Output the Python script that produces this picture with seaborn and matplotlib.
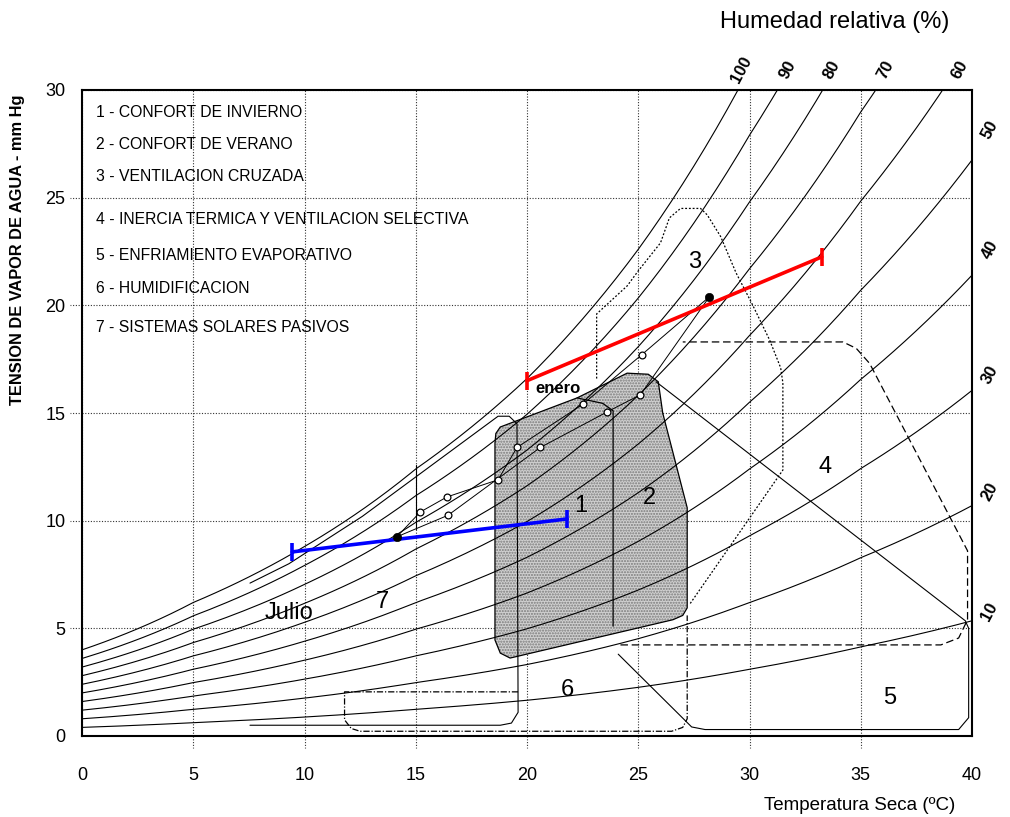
import numpy as np
import pandas as pd
import seaborn as sns
import matplotlib
matplotlib.use("Agg")
import matplotlib.pyplot as plt
from matplotlib.patches import Polygon

# Saturation vapour pressure (mm Hg)
sat_temps = [0, 5, 10, 15, 20, 25, 30, 35, 40]
sat_press = [4.0, 6.2, 8.8, 12.4, 16.6, 22.6, 31.0, 41.4, 53.5]
rh_levels = [100, 90, 80, 70, 60, 50, 40, 30, 20, 10]

# Monthly means (two branches from julio to enero)
path_a_t = [14.15, 15.2, 16.4, 18.7, 19.55, 22.5, 25.15, 28.2]
path_a_p = [9.25, 10.4, 11.1, 11.9, 13.4, 15.4, 17.7, 20.4]
path_b_t = [14.15, 16.45, 20.6, 23.6, 25.1, 28.2]
path_b_p = [9.25, 10.25, 13.4, 15.05, 15.85, 20.4]
mean_t = [14.15, 28.2]
mean_p = [9.25, 20.4]

# Extreme months: (Tmin, Tmax) / (p at Tmin, p at Tmax)
enero_t = [20.0, 33.25]
enero_p = [16.5, 22.25]
julio_t = [9.45, 21.8]
julio_p = [8.55, 10.08]

# Givoni zones (outline vertices, degC / mm Hg)
zone_12 = [(18.56, 4.46), (18.8, 3.85), (19.24, 3.62), (26.56, 5.4), (27.0, 5.6),
           (27.2, 5.95), (27.2, 10.6), (26.1, 15.0), (25.9, 16.45), (25.45, 16.8),
           (24.5, 16.85), (22.25, 15.7), (18.8, 14.35), (18.6, 14.05), (18.56, 13.6)]
zone_1_top = [(22.25, 15.7), (23.4, 15.45), (23.87, 15.1), (23.87, 5.1)]
zone_3 = [(23.13, 16.6), (23.13, 19.6), (24.5, 20.9), (25.0, 21.6), (26.0, 22.9),
          (26.4, 24.06), (26.9, 24.5), (27.8, 24.5), (28.1, 24.2), (28.7, 23.2),
          (29.4, 21.5), (30.1, 20.1), (30.9, 18.4), (31.4, 17.1), (31.5, 16.4),
          (31.5, 12.35), (27.3, 6.1)]
zone_4 = [(24.2, 4.23), (38.6, 4.23), (39.4, 4.55), (39.8, 5.4), (39.8, 8.6),
          (35.4, 17.3), (34.8, 18.0), (34.2, 18.3), (27.0, 18.3)]
zone_5 = [(25.8, 16.45), (39.7, 5.35), (39.85, 5.0), (39.85, 0.85), (39.4, 0.3),
          (28.0, 0.3), (27.4, 0.42), (24.1, 3.8)]
zone_6 = [(19.6, 2.05), (11.8, 2.05), (11.8, 0.75), (12.1, 0.35), (12.5, 0.22),
          (26.5, 0.22), (27.0, 0.4), (27.2, 0.8), (27.2, 5.6)]
zone_7 = [(7.55, 7.1), (9.3, 8.0), (12.6, 10.2), (18.7, 14.85), (19.2, 14.85),
          (19.55, 14.5), (19.6, 1.1), (19.3, 0.6), (18.8, 0.5), (7.55, 0.5)]
zone_7_split = [(15.0, 12.6), (15.0, 9.6)]

zone_names = ["1", "2", "3", "4", "5", "6", "7"]
zone_label_t = [22.4, 25.5, 27.55, 33.4, 36.3, 21.8, 13.5]
zone_label_p = [10.7, 11.05, 22.0, 12.5, 1.75, 2.15, 6.2]

legend_lines = [
    "1 - CONFORT DE INVIERNO",
    "2 - CONFORT DE VERANO",
    "3 - VENTILACION CRUZADA",
    "4 - INERCIA TERMICA Y VENTILACION SELECTIVA",
    "5 - ENFRIAMIENTO EVAPORATIVO",
    "6 - HUMIDIFICACION",
    "7 - SISTEMAS SOLARES PASIVOS",
]
legend_p = [28.94, 27.45, 25.96, 23.97, 22.3, 20.8, 18.95]

rh_top_labels = ["100", "90", "80", "70", "60"]
rh_top_t = [29.66, 31.7, 33.7, 36.1, 39.46]
rh_side_labels = ["50", "40", "30", "20", "10"]
rh_side_p = [28.15, 22.57, 16.77, 11.33, 5.76]

x_ticks = [0, 5, 10, 15, 20, 25, 30, 35, 40]
y_ticks = [0, 5, 10, 15, 20, 25, 30]

sns.set_theme(style="white")
plt.rcParams["font.family"] = ["Liberation Sans", "DejaVu Sans"]
plt.rcParams["text.color"] = "black"
plt.rcParams["xtick.color"] = "black"
plt.rcParams["ytick.color"] = "black"

# Relative humidity curves
temps = np.arange(0, 40.01, 0.25)
sat = np.exp(np.interp(temps, sat_temps, np.log(sat_press)))
curves = pd.DataFrame(
    [(t, rh / 100 * s, rh) for rh in rh_levels for t, s in zip(temps, sat)],
    columns=["temp", "press", "rh"],
)

fig = plt.figure(figsize=(10.1, 8.17), dpi=100)
ax = fig.add_axes([82 / 1010, 81 / 817, 890 / 1010, 646 / 817])

sns.lineplot(data=curves, x="temp", y="press", hue="rh", units="rh", estimator=None,
             palette=["black"] * len(rh_levels), linewidth=0.8, legend=False,
             sort=False, ax=ax)

# Shaded comfort zones 1 + 2
ax.add_patch(Polygon(zone_12, closed=True, facecolor="#d0d0d0", edgecolor="#7a7a7a",
                     hatch="......", linewidth=0, zorder=1))
ax.add_patch(Polygon(zone_12, closed=True, fill=False, edgecolor="black",
                     linewidth=0.9, zorder=3))

def outline(points, **kw):
    xs, ys = zip(*points)
    ax.plot(xs, ys, color="black", zorder=3, **kw)

outline(zone_1_top, linewidth=0.9)
outline(zone_3, linewidth=0.9, linestyle=(0, (1.5, 1.5)))
outline(zone_4, linewidth=0.9, linestyle=(0, (6, 3)))
outline(zone_5, linewidth=0.8)
outline(zone_6, linewidth=0.9, linestyle=(0, (5, 1.5, 1, 1.5)))
outline(zone_7, linewidth=0.8)
outline(zone_7_split, linewidth=0.8)

# Monthly path
ax.plot(path_a_t, path_a_p, color="black", linewidth=0.7, zorder=4)
ax.plot(path_b_t, path_b_p, color="black", linewidth=0.7, zorder=4)
sns.scatterplot(x=path_a_t[1:-1] + path_b_t[1:-1], y=path_a_p[1:-1] + path_b_p[1:-1],
                marker="o", s=24, facecolor="white", edgecolor="black", linewidth=0.9,
                zorder=6, ax=ax)

# Enero / julio ranges
ax.plot(enero_t, enero_p, color="#ff0000", linewidth=2.6, zorder=5,
        marker="|", markersize=13, markeredgewidth=2.6)
ax.plot(julio_t, julio_p, color="#0000ff", linewidth=2.6, zorder=5,
        marker="|", markersize=13, markeredgewidth=2.6)
sns.scatterplot(x=mean_t, y=mean_p, color="black", s=36, edgecolor="black",
                zorder=7, ax=ax)

ax.text(20.36, 16.15, "enero", fontsize=12, fontweight="bold", ha="left",
        va="center", zorder=8)
ax.text(9.3, 5.7, "Julio", fontsize=17, ha="center", va="center", zorder=8)

for name, t, p in zip(zone_names, zone_label_t, zone_label_p):
    ax.text(t, p, name, fontsize=17, ha="center", va="center", zorder=8)

for line, p in zip(legend_lines, legend_p):
    ax.text(0.63, p, line, fontsize=11.3, ha="left", va="center")

# RH labels outside the frame
for lab, t in zip(rh_top_labels, rh_top_t):
    ax.text(t, 30.95, lab, fontsize=12, fontweight="bold", rotation=62,
            ha="center", va="center", clip_on=False)
for lab, p in zip(rh_side_labels, rh_side_p):
    ax.text(40.8, p, lab, fontsize=12, fontweight="bold", rotation=62,
            ha="center", va="center", clip_on=False)

ax.set_xlim(0, 40)
ax.set_ylim(0, 30)
ax.set_xticks(x_ticks)
ax.set_yticks(y_ticks)
ax.set_xlabel("")
ax.set_ylabel("")
ax.grid(True, color="#333333", linestyle=(0, (1, 1.5)), linewidth=0.8)
ax.tick_params(axis="both", length=0, labelsize=13, colors="black")
ax.tick_params(axis="x", pad=22)
ax.tick_params(axis="y", pad=12)
for t in x_ticks[1:-1]:
    ax.plot([t, t], [0, -0.55], color="#333333", linestyle=(0, (1, 1.5)),
            linewidth=0.8, clip_on=False)
for p in y_ticks[1:-1]:
    ax.plot([0, -0.55], [p, p], color="#333333", linestyle=(0, (1, 1.5)),
            linewidth=0.8, clip_on=False)
for spine in ax.spines.values():
    spine.set_visible(True)
    spine.set_color("black")
    spine.set_linewidth(1.5)

fig.text(18 / 1010, 1 - 250 / 817, "TENSION DE VAPOR DE AGUA - mm Hg", rotation=90,
         fontsize=11.8, fontweight="bold", ha="center", va="center")
fig.text(860 / 1010, 1 - 805 / 817, "Temperatura Seca (ºC)", fontsize=13.5,
         ha="center", va="center")
fig.text(835 / 1010, 1 - 22 / 817, "Humedad relativa (%)", fontsize=17,
         ha="center", va="center")

fig.savefig("out.png", dpi=100)
